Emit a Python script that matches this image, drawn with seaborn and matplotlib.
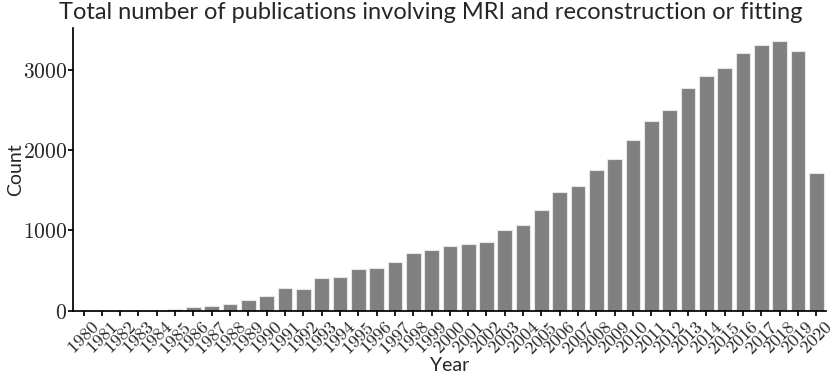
import matplotlib
matplotlib.use("Agg")
import matplotlib.pyplot as plt
import seaborn as sns
import pandas as pd

years = [str(y) for y in range(1980, 2021)]
counts = [1, 1, 2, 3, 12, 25, 54, 62, 91, 140,
          182, 285, 277, 405, 421, 517, 533, 612, 715, 760,
          810, 835, 855, 1000, 1070, 1260, 1479, 1550, 1752, 1884,
          2120, 2355, 2496, 2769, 2917, 3017, 3207, 3310, 3351, 3227,
          1719]

sns.set_theme(style="ticks")
plt.rcParams['font.family'] = ['Lato', 'DejaVu Sans']
plt.rcParams['mathtext.fontset'] = 'cm'

df = pd.DataFrame({"Year": years, "Count": counts})
fig = plt.figure(figsize=(8.3, 3.76), dpi=100)
ax = fig.add_axes([0.0885, 0.173, 0.907, 0.753])
sns.barplot(data=df, x="Year", y="Count", color="#808080", saturation=1,
            edgecolor="#e6e6e6", linewidth=0.8, ax=ax)
sns.despine(ax=ax)
ax.set_xticks(range(len(years)))
ax.set_xticklabels([f"${y}$" for y in years], rotation=45, ha="center",
                   fontsize=13.3)
ax.set_yticks([0, 1000, 2000, 3000])
ax.set_yticklabels([f"${v}$" for v in [0, 1000, 2000, 3000]], fontsize=15.5)
ax.set_xlim(-0.55, len(years) - 0.45)
ax.set_xlabel("Year", fontsize=14)
ax.set_ylabel("Count", fontsize=14)
ax.xaxis.set_label_coords(0.5, -0.163)
ax.yaxis.set_label_coords(-0.066, 0.5)
ax.set_title("Total number of publications involving MRI and reconstruction or fitting",
             fontsize=17, x=0.475)
ax.tick_params(axis='both', length=3.5, color='black', pad=2)
ax.tick_params(axis='y', pad=1)
for s in ax.spines.values():
    s.set_color('black')
fig.savefig("out.png", dpi=100)
